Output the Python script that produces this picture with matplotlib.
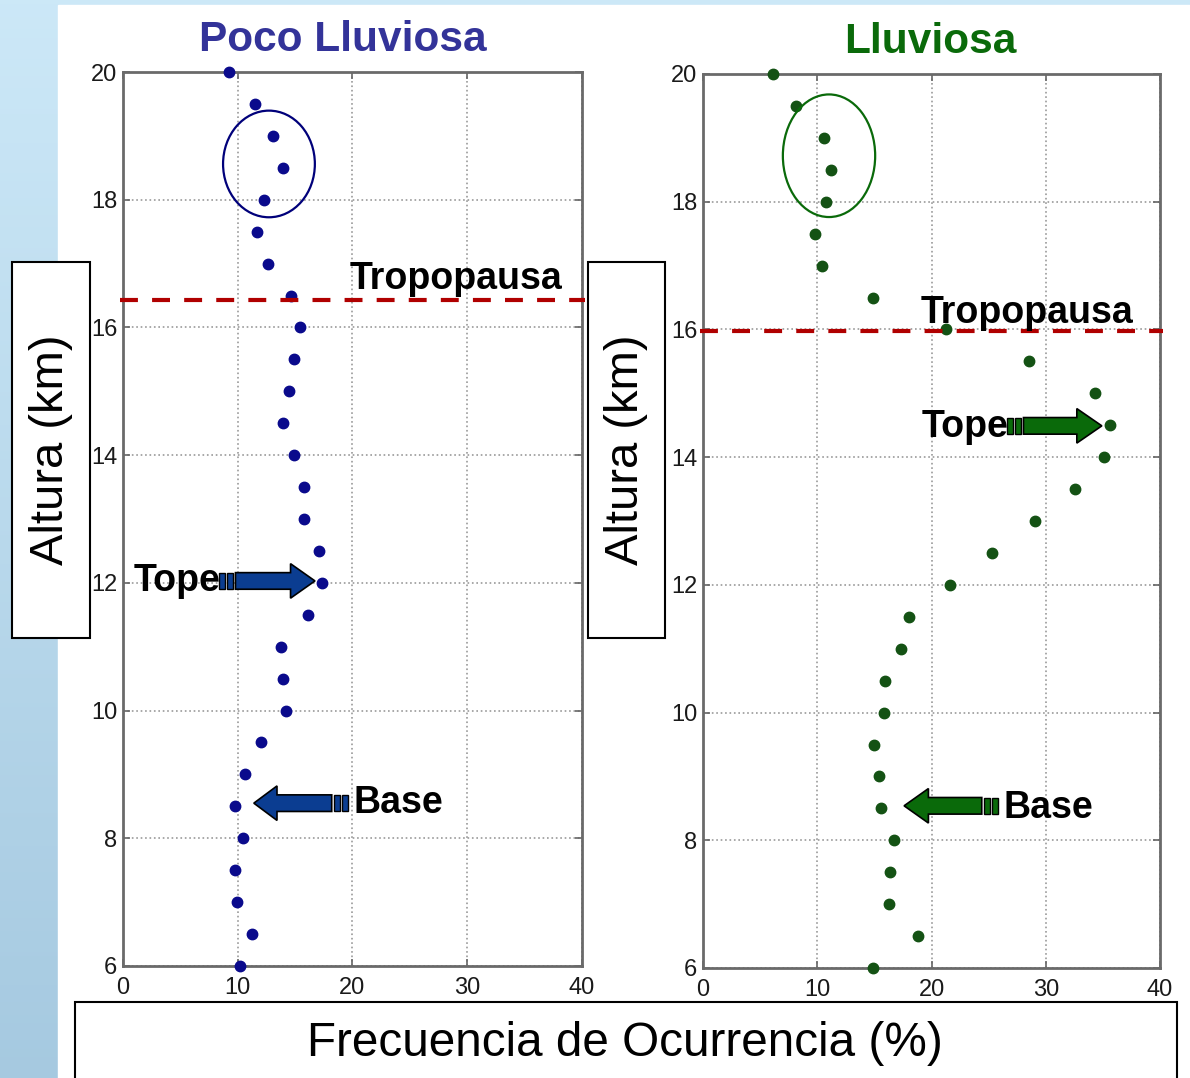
import matplotlib
matplotlib.use('Agg')
import matplotlib.pyplot as plt
import numpy as np
from matplotlib.patches import Ellipse, Rectangle, Polygon

plt.rcParams['font.family'] = ['Liberation Sans', 'DejaVu Sans']

# alturas (km) de arriba hacia abajo
altura = [20, 19.5, 19, 18.5, 18, 17.5, 17, 16.5, 16, 15.5, 15, 14.5, 14, 13.5, 13,
          12.5, 12, 11.5, 11, 10.5, 10, 9.5, 9, 8.5, 8, 7.5, 7, 6.5, 6]
# frecuencia de ocurrencia (%)
poco = [9.2, 11.5, 13.1, 13.9, 12.3, 11.7, 12.6, 14.6, 15.4, 14.9, 14.5, 13.9, 14.9, 15.8, 15.8,
        17.1, 17.3, 16.1, 13.8, 13.9, 14.2, 12.0, 10.6, 9.8, 10.5, 9.8, 9.9, 11.2, 10.2]
lluviosa = [6.1, 8.1, 10.6, 11.2, 10.8, 9.8, 10.4, 14.9, 21.3, 28.5, 34.3, 35.6, 35.1, 32.6, 29.1,
            25.3, 21.6, 18.0, 17.3, 15.9, 15.8, 15.0, 15.4, 15.6, 16.7, 16.4, 16.3, 18.8, 14.9]
tropo_poco = 16.43
tropo_lluv = 15.98
xticks = [0, 10, 20, 30, 40]
yticks = [6, 8, 10, 12, 14, 16, 18, 20]

W, H = 1190, 1078
fig = plt.figure(figsize=(W / 100, H / 100), dpi=100)
fig.patch.set_facecolor('white')

def fx(px):
    return px / W

def fy(py):
    return 1 - py / H

# fondo azul con degradado
bg = fig.add_axes([0, 0, 1, 1], zorder=-10)
grad = np.linspace(0, 1, 256).reshape(-1, 1)
c1 = np.array([0.80, 0.91, 0.97])
c2 = np.array([0.65, 0.79, 0.88])
img = c1 + (c2 - c1) * grad[:, :, None]
img = np.repeat(img, 2, axis=1)
bg.imshow(img, aspect='auto', extent=[0, 1, 0, 1])
bg.axis('off')
bg.add_patch(Rectangle((fx(58), 0), 1 - fx(58), fy(5), color='white', transform=bg.transAxes))


def flecha(ax, tip, base, cola, y, color, hc=0.13, hh=0.27):
    s = 1 if tip > cola else -1
    pts = [(cola, y - hc), (base, y - hc), (base, y - hh), (tip, y),
           (base, y + hh), (base, y + hc), (cola, y + hc)]
    ax.add_patch(Polygon(pts, closed=True, facecolor=color, edgecolor='black', lw=1.2,
                         zorder=5, clip_on=False))
    w, g = 0.5, 0.2
    for k in range(2):
        x1 = cola - s * (g + k * (w + g))
        x0 = x1 - s * w
        ax.add_patch(Rectangle((min(x0, x1), y - hc), w, 2 * hc, facecolor=color,
                               edgecolor='black', lw=1.0, zorder=5, clip_on=False))


def panel(rect, datos, color, tropo):
    ax = fig.add_axes(rect)
    ax.set_facecolor('white')
    ax.plot(datos, altura, 'o', color=color, markersize=7.5, clip_on=False, zorder=4)
    ax.set_xlim(0, 40)
    ax.set_ylim(6, 20)
    ax.set_xticks(xticks)
    ax.set_yticks(yticks)
    ax.grid(True, linestyle=':', color='#9a9a9a', lw=1.2)
    ax.tick_params(direction='in', top=True, right=True, length=5, width=1.2,
                   labelsize=17, labelcolor='#1a1a1a', color='#666666', pad=4)
    ax.tick_params(axis='x', pad=8)
    for sp in ax.spines.values():
        sp.set_color('#6a6a6a')
        sp.set_linewidth(2)
    ax.plot([-0.3, 40.3], [tropo, tropo], color='#b00000', lw=3,
            linestyle=(0, (4.3, 3.4)), clip_on=False, zorder=6)
    return ax


ax1 = panel([fx(123), fy(966), fx(582) - fx(123), fy(72) - fy(966)], poco, '#0a0a8c', tropo_poco)
ax2 = panel([fx(703), fy(968), fx(1160) - fx(703), fy(74) - fy(968)], lluviosa, '#145214', tropo_lluv)

# elipses
ax1.add_patch(Ellipse((12.72, 18.56), 8.0, 1.67, fill=False, edgecolor='#00007a', lw=1.6, zorder=5))
ax2.add_patch(Ellipse((11.03, 18.72), 8.08, 1.92, fill=False, edgecolor='#0a6a0a', lw=1.6, zorder=5))

# flechas
flecha(ax1, 16.73, 14.6, 9.8, 12.03, '#0b3d91')
flecha(ax1, 11.40, 13.42, 18.19, 8.55, '#0b3d91')
flecha(ax2, 34.91, 32.72, 28.05, 14.49, '#0a6a0a')
flecha(ax2, 17.60, 19.73, 24.40, 8.54, '#0a6a0a')

# titulos
fig.text(fx(343), fy(40), 'Poco Lluviosa', color='#333399', fontsize=30.5, fontweight='bold',
         ha='center', va='center')
fig.text(fx(930), fy(42), 'Lluviosa', color='#0a6a0a', fontsize=30.5, fontweight='bold',
         ha='center', va='center')

# etiquetas
kw = dict(fontsize=27, fontweight='bold', color='black', va='center', zorder=7)
fig.text(fx(350), fy(279), 'Tropopausa', ha='left', **kw)
fig.text(fx(921), fy(313), 'Tropopausa', ha='left', **kw)
fig.text(fx(220), fy(581), 'Tope', ha='right', **kw)
fig.text(fx(1008), fy(427), 'Tope', ha='right', **kw)
fig.text(fx(353), fy(803), 'Base', ha='left', **kw)
fig.text(fx(1003), fy(808), 'Base', ha='left', **kw)

# cajas del eje y
for x0, x1 in [(12, 90), (588, 665)]:
    fig.add_artist(Rectangle((fx(x0), fy(638)), fx(x1) - fx(x0), fy(262) - fy(638),
                             facecolor='white', edgecolor='black', lw=1.5,
                             transform=fig.transFigure, zorder=3))
    fig.text(fx((x0 + x1) / 2), fy(450), 'Altura (km)', rotation=90, fontsize=34,
             ha='center', va='center', zorder=4)

# caja del eje x
fig.add_artist(Rectangle((fx(75), fy(1090)), fx(1177) - fx(75), fy(1002) - fy(1090),
                         facecolor='white', edgecolor='black', lw=1.5,
                         transform=fig.transFigure, zorder=3, clip_on=False))
fig.text(fx(625), fy(1043), 'Frecuencia de Ocurrencia (%)', fontsize=34.3,
         ha='center', va='center', zorder=4)

fig.savefig('out.png', dpi=100)
